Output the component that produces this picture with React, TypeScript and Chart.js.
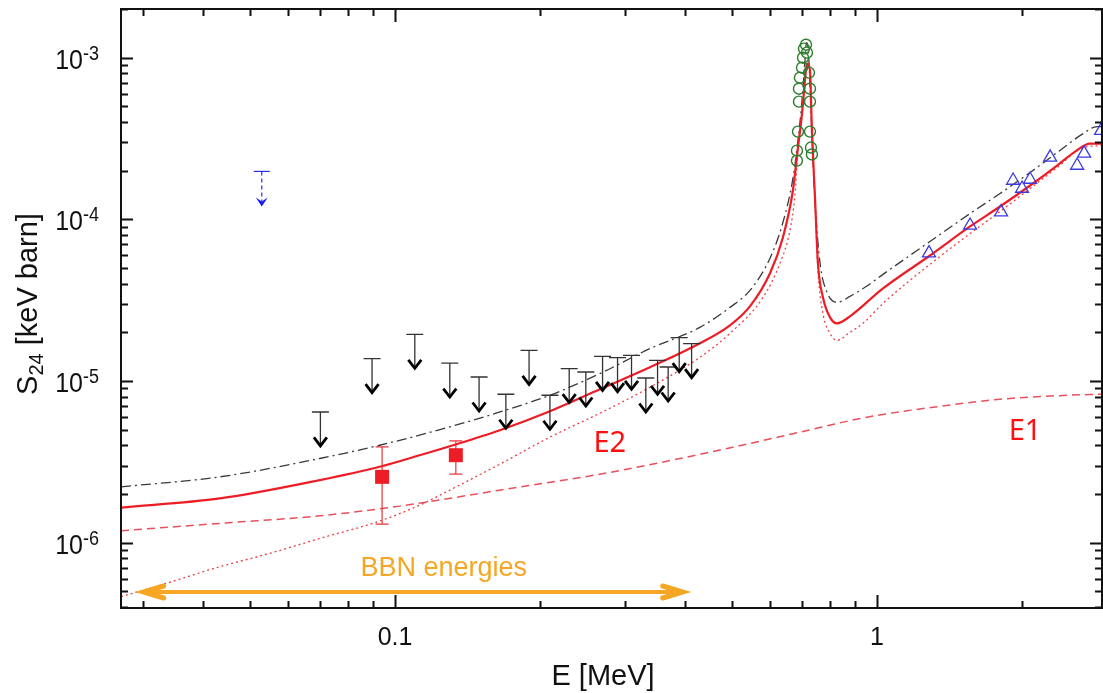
import React, { useEffect, useRef } from "react";
import { Chart, registerables } from "chart.js";

Chart.register(...registerables);

// ---------------- data (E in MeV, S24 in keV barn) ----------------
const X_MIN = 0.027;
const X_MAX = 2.93;
const Y_MIN = 3.95e-7;
const Y_MAX = 2e-3;

// total (red solid)
const totalE = [0.027, 0.0433, 0.0698, 0.0929, 0.1125, 0.1299, 0.165, 0.2096, 0.2661, 0.338, 0.4291, 0.4953, 0.5449, 0.5995, 0.6379, 0.6691, 0.6855, 0.6989, 0.7088, 0.7156, 0.726, 0.7328, 0.7436, 0.7542, 0.7725, 0.799, 0.826, 0.8788, 1.029, 1.288, 1.56, 1.8, 2.078, 2.364, 2.576, 2.768, 2.93];
const totalS = [1.65e-6, 1.88e-6, 2.44e-6, 2.95e-6, 3.48e-6, 3.957e-6, 4.97e-6, 6.51e-6, 8.9e-6, 1.217e-5, 1.712e-5, 2.212e-5, 2.897e-5, 4.63e-5, 7.73e-5, 1.509e-4, 2.78e-4, 4.51e-4, 7.21e-4, 9.18e-4, 8.31e-4, 3.54e-4, 1.365e-4, 5.34e-5, 3.29e-5, 2.477e-5, 2.275e-5, 2.514e-5, 3.74e-5, 5.98e-5, 9.04e-5, 1.201e-4, 1.62e-4, 2.153e-4, 2.627e-4, 2.943e-4, 2.943e-4];

// other model (black dash-dot)
const altE = [0.027, 0.0433, 0.0698, 0.0929, 0.1299, 0.165, 0.2096, 0.2661, 0.338, 0.4291, 0.4953, 0.5449, 0.5995, 0.6379, 0.6691, 0.6855, 0.6989, 0.7088, 0.714, 0.7207, 0.7295, 0.7436, 0.7614, 0.7876, 0.826, 0.8788, 0.9443, 1.029, 1.288, 1.56, 1.8, 2.078, 2.364, 2.677, 2.862, 2.93];
const altS = [2.218e-6, 2.557e-6, 3.32e-6, 4.01e-6, 5.21e-6, 6.44e-6, 8.17e-6, 1.112e-5, 1.588e-5, 2.149e-5, 2.856e-5, 3.637e-5, 5.735e-5, 9.57e-5, 1.789e-4, 3.07e-4, 5.43e-4, 9.58e-4, 1.238e-3, 1.074e-3, 4.71e-4, 1.308e-4, 5.42e-5, 3.54e-5, 3.07e-5, 3.34e-5, 3.8e-5, 4.57e-5, 7.3e-5, 1.087e-4, 1.445e-4, 1.949e-4, 2.59e-4, 3.39e-4, 3.75e-4, 3.75e-4];

// E2 component (red dotted)
const e2E = [0.027, 0.03405, 0.04326, 0.05494, 0.0698, 0.0929, 0.1125, 0.1299, 0.165, 0.2096, 0.2661, 0.338, 0.4291, 0.4953, 0.58, 0.6289, 0.6597, 0.6757, 0.6855, 0.6989, 0.7088, 0.7156, 0.726, 0.7328, 0.7436, 0.7542, 0.7725, 0.799, 0.826, 0.8788, 0.9353, 1.029, 1.288, 1.56, 1.8, 2.078, 2.364, 2.677, 2.93];
const e2S = [4.64e-7, 5.69e-7, 7.11e-7, 8.6e-7, 1.064e-6, 1.362e-6, 1.709e-6, 2.116e-6, 3.063e-6, 4.5e-6, 6.33e-6, 9.16e-6, 1.403e-5, 1.973e-5, 3.29e-5, 5.34e-5, 8.54e-5, 1.405e-4, 2.68e-4, 4.4e-4, 7.1e-4, 9.1e-4, 8.2e-4, 3.45e-4, 1.308e-4, 4.83e-5, 2.62e-5, 1.973e-5, 1.786e-5, 2.0e-5, 2.275e-5, 3.024e-5, 5.27e-5, 8.18e-5, 1.119e-4, 1.552e-4, 2.09e-4, 2.78e-4, 2.86e-4];

// E1 component (red dashed)
const e1E = [0.027, 0.04326, 0.0698, 0.1023, 0.165, 0.2661, 0.3665, 0.5025, 0.692, 0.9533, 1.307, 1.8, 2.48, 2.93];
const e1S = [1.186e-6, 1.318e-6, 1.468e-6, 1.685e-6, 2.116e-6, 2.656e-6, 3.195e-6, 3.9e-6, 4.83e-6, 5.98e-6, 6.89e-6, 7.72e-6, 8.17e-6, 8.29e-6];

// resonance data (green circles)
const resE = [0.7122, 0.7055, 0.7156, 0.7022, 0.6989, 0.7225, 0.692, 0.726, 0.6888, 0.6888, 0.726, 0.6855, 0.726, 0.6822, 0.7295, 0.6822, 0.7328];
const resS = [1.203e-3, 1.137e-3, 1.074e-3, 1.0e-3, 8.67e-4, 8.08e-4, 7.52e-4, 6.43e-4, 6.43e-4, 5.35e-4, 5.35e-4, 3.49e-4, 3.49e-4, 2.66e-4, 2.78e-4, 2.31e-4, 2.52e-4];

// high-energy data (blue triangles)
const triE = [1.282, 1.56, 1.809, 1.916, 2.0, 2.078, 2.287, 2.602, 2.69, 2.917];
const triS = [6.18e-5, 9.17e-5, 1.108e-4, 1.739e-4, 1.552e-4, 1.764e-4, 2.42e-4, 2.153e-4, 2.56e-4, 3.54e-4];

// LUNA points (red squares) with errors
const sqE = [0.094, 0.1337];
const sqS = [2.557e-6, 3.48e-6];
const sqLo = [1.305e-6, 2.656e-6];
const sqHi = [3.92e-6, 4.27e-6];

// upper limits (black arrows)
const ulE = [0.07, 0.0896, 0.1099, 0.1299, 0.1494, 0.1698, 0.1897, 0.2096, 0.2298, 0.2488, 0.2695, 0.2895, 0.3095, 0.3314, 0.3505, 0.3687, 0.3887, 0.4124];
const ulS = [6.44e-6, 1.377e-5, 1.946e-5, 1.293e-5, 1.06e-5, 8.29e-6, 1.549e-5, 8.17e-6, 1.195e-5, 1.138e-5, 1.422e-5, 1.396e-5, 1.443e-5, 1.045e-5, 1.344e-5, 1.222e-5, 1.856e-5, 1.704e-5];

// upper limit (blue dashed arrow)
const blueE = [0.0529];
const blueS = [1.98e-4];

// BBN energy range arrow
const bbnE = [0.0298, 0.399];
const bbnS = 4.96e-7;

// tick labels
const xTickValues = [0.1, 1];
const xTickLabels = ["0.1", "1"];
const yTickValues = [1e-6, 1e-5, 1e-4, 1e-3];
const yTickExps = ["-6", "-5", "-4", "-3"];

// ---------------- drawing helpers ----------------
const FONT = '"Liberation Sans", Arial, Helvetica, sans-serif';
const LABEL_FONT = '"Noto Sans", "DejaVu Sans", sans-serif';

function txt(ctx: CanvasRenderingContext2D, s: string, x: number, y: number, font: string, align: CanvasTextAlign, sy = 1) {
  ctx.save();
  ctx.translate(x, y);
  ctx.scale(1, sy);
  ctx.font = font;
  ctx.textAlign = align;
  ctx.textBaseline = "alphabetic";
  ctx.fillText(s, 0, 0);
  ctx.restore();
}

const overlayPlugin = {
  id: "overlay",
  afterDatasetsDraw(chart: any) {
    const ctx: CanvasRenderingContext2D = chart.ctx;
    const xs = chart.scales.x;
    const ys = chart.scales.y;
    ctx.save();

    // red squares with error bars
    ctx.strokeStyle = "#e8343c";
    ctx.fillStyle = "#ee1c24";
    ctx.lineWidth = 1.2;
    sqE.forEach((e, i) => {
      const px = xs.getPixelForValue(e);
      const pc = ys.getPixelForValue(sqS[i]);
      const pt = ys.getPixelForValue(sqHi[i]);
      const pb = ys.getPixelForValue(sqLo[i]);
      ctx.beginPath();
      ctx.moveTo(px, pt); ctx.lineTo(px, pb);
      ctx.moveTo(px - 6.5, pt); ctx.lineTo(px + 6.5, pt);
      ctx.moveTo(px - 6.5, pb); ctx.lineTo(px + 6.5, pb);
      ctx.stroke();
      ctx.fillRect(px - 7, pc - 7, 14, 14);
    });

    // black upper limits
    ulE.forEach((e, i) => {
      const px = xs.getPixelForValue(e);
      const py = ys.getPixelForValue(ulS[i]);
      ctx.strokeStyle = "#333";
      ctx.lineWidth = 1.3;
      ctx.beginPath();
      ctx.moveTo(px - 8.5, py); ctx.lineTo(px + 8.5, py);
      ctx.moveTo(px, py); ctx.lineTo(px, py + 34);
      ctx.stroke();
      ctx.strokeStyle = "#000";
      ctx.lineWidth = 2.8;
      ctx.lineJoin = "miter";
      ctx.beginPath();
      ctx.moveTo(px - 6.5, py + 25.5);
      ctx.lineTo(px, py + 34);
      ctx.lineTo(px + 6.5, py + 25.5);
      ctx.stroke();
    });

    // blue dashed upper limit
    blueE.forEach((e, i) => {
      const px = xs.getPixelForValue(e);
      const py = ys.getPixelForValue(blueS[i]);
      ctx.strokeStyle = "#2a2aee";
      ctx.lineWidth = 1.2;
      ctx.beginPath();
      ctx.moveTo(px - 8, py); ctx.lineTo(px + 8, py);
      ctx.stroke();
      ctx.setLineDash([4, 3]);
      ctx.beginPath();
      ctx.moveTo(px, py); ctx.lineTo(px, py + 30);
      ctx.stroke();
      ctx.setLineDash([]);
      ctx.fillStyle = "#1a1af0";
      ctx.beginPath();
      ctx.moveTo(px - 6, py + 26);
      ctx.lineTo(px, py + 35);
      ctx.lineTo(px + 6, py + 26);
      ctx.lineTo(px, py + 30);
      ctx.closePath();
      ctx.fill();
    });

    // BBN arrow
    const bx0 = xs.getPixelForValue(bbnE[0]);
    const bx1 = xs.getPixelForValue(bbnE[1]);
    const by = ys.getPixelForValue(bbnS);
    ctx.strokeStyle = "#f6a623";
    ctx.lineWidth = 4;
    ctx.lineCap = "round";
    ctx.beginPath();
    ctx.moveTo(bx0 + 2, by); ctx.lineTo(bx1 - 2, by);
    ctx.stroke();
    ctx.lineWidth = 5;
    ctx.beginPath();
    ctx.moveTo(bx0 + 22, by - 6); ctx.lineTo(bx0 + 2, by); ctx.lineTo(bx0 + 22, by + 6);
    ctx.moveTo(bx1 - 22, by - 6); ctx.lineTo(bx1 - 2, by); ctx.lineTo(bx1 - 22, by + 6);
    ctx.stroke();
    ctx.lineCap = "butt";

    // labels
    ctx.fillStyle = "#f6a623";
    txt(ctx, "BBN energies", xs.getPixelForValue(0.1262), ys.getPixelForValue(6.23e-7), `27px ${FONT}`, "center");
    ctx.fillStyle = "#ff1010";
    txt(ctx, "E2", xs.getPixelForValue(0.279), ys.getPixelForValue(3.63e-6), `29px ${LABEL_FONT}`, "center");
    txt(ctx, "E1", xs.getPixelForValue(2.029), ys.getPixelForValue(4.31e-6), `29px ${LABEL_FONT}`, "center");

    ctx.restore();
  },
  afterDraw(chart: any) {
    const ctx: CanvasRenderingContext2D = chart.ctx;
    const a = chart.chartArea;
    const xs = chart.scales.x;
    const ys = chart.scales.y;
    ctx.save();
    ctx.strokeStyle = "#111";
    ctx.lineWidth = 2;
    ctx.strokeRect(a.left, a.top, a.right - a.left, a.bottom - a.top);

    // ticks (inward, mirrored)
    ctx.beginPath();
    for (let d = -7; d <= -3; d++) {
      for (let m = 1; m <= 9; m++) {
        const v = m * Math.pow(10, d);
        if (v < Y_MIN * 0.999 || v > Y_MAX * 1.001) continue;
        const py = Math.round(ys.getPixelForValue(v)) + 0.5;
        const len = m === 1 ? 12 : 7;
        ctx.moveTo(a.left, py); ctx.lineTo(a.left + len, py);
        ctx.moveTo(a.right, py); ctx.lineTo(a.right - len, py);
      }
    }
    for (let d = -2; d <= 0; d++) {
      for (let m = 1; m <= 9; m++) {
        const v = m * Math.pow(10, d);
        if (v < X_MIN || v > X_MAX) continue;
        const px = Math.round(xs.getPixelForValue(v)) + 0.5;
        const len = m === 1 ? 13 : 7;
        ctx.moveTo(px, a.bottom); ctx.lineTo(px, a.bottom - len);
        ctx.moveTo(px, a.top); ctx.lineTo(px, a.top + len);
      }
    }
    ctx.stroke();

    // tick labels
    ctx.fillStyle = "#111";
    yTickValues.forEach((v, i) => {
      const py = ys.getPixelForValue(v);
      txt(ctx, "10", 83, py + 11, `25px ${FONT}`, "right", 1.12);
      txt(ctx, yTickExps[i], 83, py + 2, `18px ${FONT}`, "left", 1.12);
    });
    xTickValues.forEach((v, i) => {
      const px = xs.getPixelForValue(v);
      txt(ctx, xTickLabels[i], px, 645, `25px ${FONT}`, "center", 1.0);
    });

    // axis titles
    txt(ctx, "E [MeV]", 603, 685, `29px ${FONT}`, "center");

    ctx.save();
    ctx.translate(37, 304);
    ctx.rotate(-Math.PI / 2);
    const f1 = `29px ${FONT}`;
    const f2 = `20px ${FONT}`;
    ctx.font = f1;
    const wS = ctx.measureText("S").width;
    const wRest = ctx.measureText(" [keV barn]").width;
    ctx.font = f2;
    const wSub = ctx.measureText("24").width;
    const total = wS + wSub + wRest;
    let cx = -total / 2;
    ctx.textBaseline = "alphabetic";
    ctx.textAlign = "left";
    ctx.font = f1;
    ctx.fillText("S", cx, 0);
    cx += wS;
    ctx.font = f2;
    ctx.fillText("24", cx, 6);
    cx += wSub;
    ctx.font = f1;
    ctx.fillText(" [keV barn]", cx, 0);
    ctx.restore();

    ctx.restore();
  },
};

const pts = (xs: number[], ys: number[]) => xs.map((x, i) => ({ x, y: ys[i] }));

export default function App() {
  const ref = useRef<HTMLCanvasElement | null>(null);
  useEffect(() => {
    if (!ref.current) return;
    const lineBase = {
      pointRadius: 0,
      pointHoverRadius: 0,
      fill: false,
      cubicInterpolationMode: "monotone" as const,
    };
    const chart = new Chart(ref.current, {
      type: "line",
      data: {
        datasets: [
          {
            label: "res",
            data: pts(resE, resS),
            showLine: false,
            pointStyle: "circle",
            pointRadius: 5.5,
            pointBorderColor: "#2b7d2b",
            pointBackgroundColor: "rgba(0,0,0,0)",
            pointBorderWidth: 1.4,
            order: 1,
          },
          {
            label: "tri",
            data: pts(triE, triS),
            showLine: false,
            pointStyle: "triangle",
            pointRadius: 7.5,
            pointBorderColor: "#3b3be0",
            pointBackgroundColor: "rgba(0,0,0,0)",
            pointBorderWidth: 1.3,
            order: 2,
          },
          {
            ...lineBase,
            label: "total",
            data: pts(totalE, totalS),
            borderColor: "#ee1c24",
            borderWidth: 2.2,
            order: 4,
          },
          {
            ...lineBase,
            label: "alt",
            data: pts(altE, altS),
            borderColor: "#3a3a3a",
            borderWidth: 1.3,
            borderDash: [10, 4, 2, 4],
            order: 5,
          },
          {
            ...lineBase,
            label: "E2",
            data: pts(e2E, e2S),
            borderColor: "#e8404a",
            borderWidth: 1.3,
            borderDash: [2, 3],
            order: 6,
          },
          {
            ...lineBase,
            label: "E1",
            data: pts(e1E, e1S),
            borderColor: "#e8505c",
            borderWidth: 1.5,
            borderDash: [8, 5],
            order: 7,
          },
        ],
      },
      options: {
        responsive: false,
        animation: false,
        devicePixelRatio: 1,
        layout: { padding: { left: 121, top: 9, right: 11, bottom: 85 } },
        plugins: { legend: { display: false }, tooltip: { enabled: false } },
        events: [],
        scales: {
          x: { type: "logarithmic", min: X_MIN, max: X_MAX, display: false },
          y: { type: "logarithmic", min: Y_MIN, max: Y_MAX, display: false },
        },
      },
      plugins: [overlayPlugin],
    });
    return () => chart.destroy();
  }, []);
  return (
    <div style={{ position: "absolute", left: 0, top: 0, width: 1103, height: 693, overflow: "hidden", background: "#fff" }}>
      <canvas ref={ref} width={1113} height={693} style={{ display: "block" }} />
    </div>
  );
}
